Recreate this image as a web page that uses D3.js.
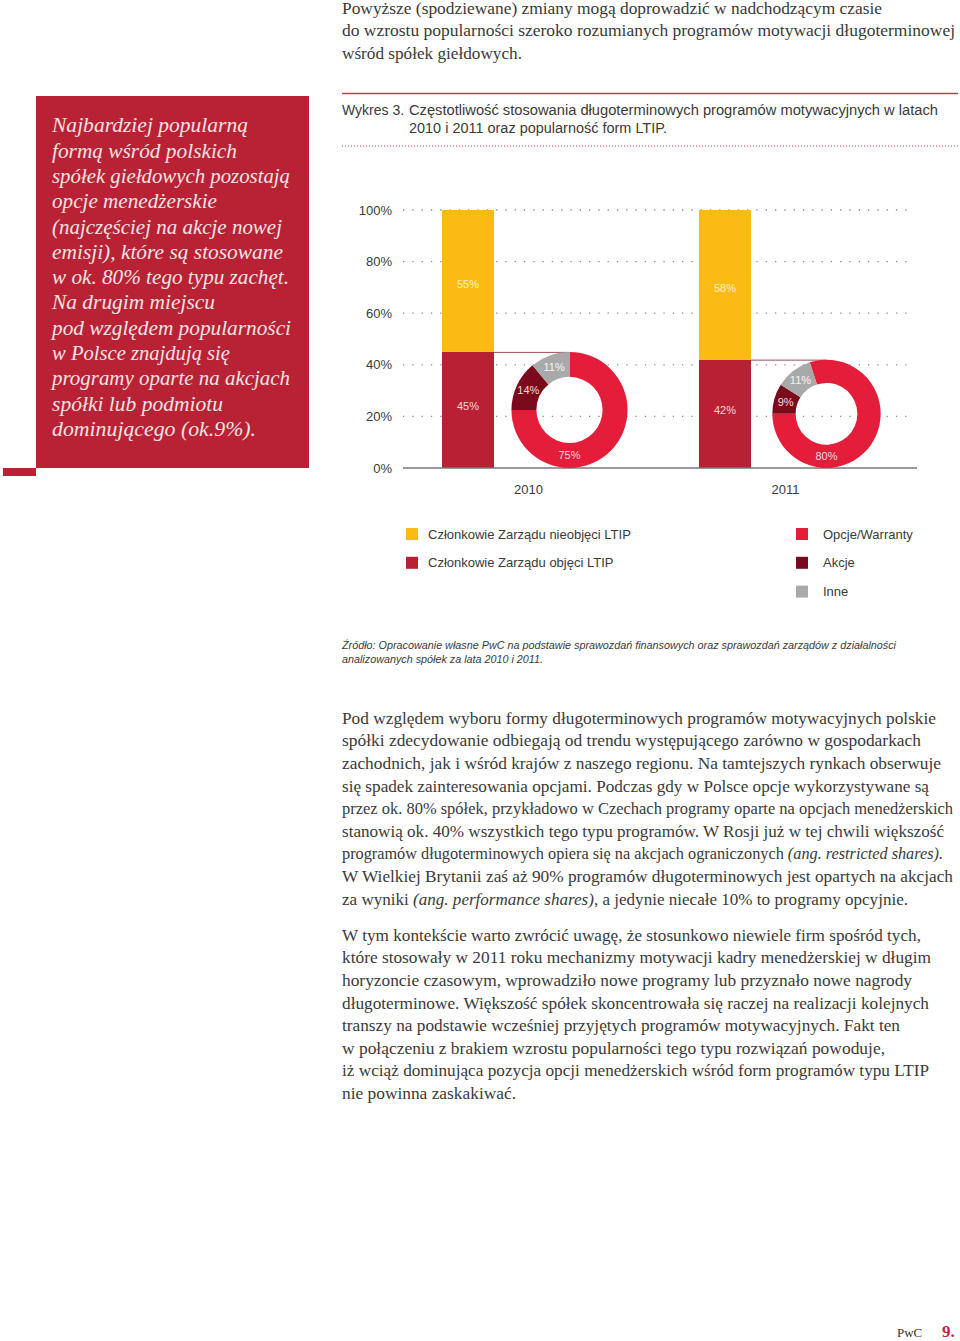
<!DOCTYPE html>
<html><head><meta charset="utf-8">
<script src="https://cdn.jsdelivr.net/npm/d3@7"></script>
<style>body{margin:0;background:#fff}svg{display:block}</style></head>
<body><script>
// ---------- DATA ----------
const years = ["2010", "2011"];
const ltipCovered = [45, 42];      // Członkowie Zarządu objęci LTIP
const ltipNotCovered = [55, 58];   // Członkowie Zarządu nieobjęci LTIP
const formNames = ["Opcje/Warranty", "Akcje", "Inne"];
const forms2010 = [75, 14, 11];
const forms2011 = [80, 9, 11];
const yTicks = [0, 20, 40, 60, 80, 100];
const barLegend = ["Członkowie Zarządu nieobjęci LTIP", "Członkowie Zarządu objęci LTIP"];
const chartTitle = ["Wykres 3. Częstotliwość stosowania długoterminowych programów motywacyjnych w latach",
  "2010 i 2011 oraz popularność form LTIP."];
const sourceLines = ["Źródło: Opracowanie własne PwC na podstawie sprawozdań finansowych oraz sprawozdań zarządów z działalności",
  "analizowanych spółek za lata 2010 i 2011."];
const introLines = ["Powyższe (spodziewane) zmiany mogą doprowadzić w nadchodzącym czasie",
  "do wzrostu popularności szeroko rozumianych programów motywacji długoterminowej",
  "wśród spółek giełdowych."];
const boxLines = ["Najbardziej popularną", "formą wśród polskich", "spółek giełdowych pozostają",
  "opcje menedżerskie", "(najczęściej na akcje nowej", "emisji), które są stosowane",
  "w ok. 80% tego typu zachęt.", "Na drugim miejscu", "pod względem popularności",
  "w Polsce znajdują się", "programy oparte na akcjach", "spółki lub podmiotu", "dominującego (ok.9%)."];
const para1 = [
  [["Pod względem wyboru formy długoterminowych programów motywacyjnych polskie"]],
  [["spółki zdecydowanie odbiegają od trendu występującego zarówno w gospodarkach"]],
  [["zachodnich, jak i wśród krajów z naszego regionu. Na tamtejszych rynkach obserwuje"]],
  [["się spadek zainteresowania opcjami. Podczas gdy w Polsce opcje wykorzystywane są"]],
  [["przez ok. 80% spółek, przykładowo w Czechach programy oparte na opcjach menedżerskich"]],
  [["stanowią ok. 40% wszystkich tego typu programów. W Rosji już w tej chwili większość"]],
  [["programów długoterminowych opiera się na akcjach ograniczonych "], ["(ang. restricted shares).", "i"]],
  [["W Wielkiej Brytanii zaś aż 90% programów długoterminowych jest opartych na akcjach"]],
  [["za wyniki "], ["(ang. performance shares)", "i"], [", a jedynie niecałe 10% to programy opcyjnie."]]
];
const para2 = [
  "W tym kontekście warto zwrócić uwagę, że stosunkowo niewiele firm spośród tych,",
  "które stosowały w 2011 roku mechanizmy motywacji kadry menedżerskiej w długim",
  "horyzoncie czasowym, wprowadziło nowe programy lub przyznało nowe nagrody",
  "długoterminowe. Większość spółek skoncentrowała się raczej na realizacji kolejnych",
  "transzy na podstawie wcześniej przyjętych programów motywacyjnych. Fakt ten",
  "w połączeniu z brakiem wzrostu popularności tego typu rozwiązań powoduje,",
  "iż wciąż dominująca pozycja opcji menedżerskich wśród form programów typu LTIP",
  "nie powinna zaskakiwać."
];

// ---------- LAYOUT / STYLE ----------
const W = 960, H = 1341;
const C = {yellow: "#FCBB13", ltip: "#B92034", opcje: "#E41D3A", akcje: "#7B0A1D", inne: "#A9A9A9",
  box: "#B92234", text: "#3a3a3a", boxText: "#F5E3E5"};
const formColors = [C.opcje, C.akcje, C.inne];
const serif = "'Liberation Serif', 'DejaVu Serif', serif";
const sans = "'Liberation Sans', Arial, sans-serif";

const svg = d3.select("body").append("svg").attr("width", W).attr("height", H)
  .attr("viewBox", `0 0 ${W} ${H}`);
svg.append("rect").attr("width", W).attr("height", H).attr("fill", "#fff");

function lines(g, arr, x, y0, step, size, family, fill, widths, style) {
  arr.forEach((ln, i) => {
    const t = g.append("text").attr("x", x).attr("y", y0 + i * step).attr("dy", "0.35em")
      .attr("font-family", family).attr("font-size", size).attr("fill", fill)
      .attr("font-style", style || "normal");
    if (Array.isArray(ln)) {
      ln.forEach(seg => t.append("tspan").text(seg[0]).attr("font-style", seg[1] === "i" ? "italic" : null));
    } else t.text(ln);
    if (widths && widths[i]) t.attr("textLength", widths[i] - x).attr("lengthAdjust", "spacingAndGlyphs");
  });
}

// intro text
lines(svg, introLines, 342, 8, 22.6, 16.5, serif, C.text, [882, 955, 522]);

// red box
svg.append("rect").attr("x", 36).attr("y", 96).attr("width", 273).attr("height", 372).attr("fill", C.box);
svg.append("rect").attr("x", 3).attr("y", 468).attr("width", 33).attr("height", 8).attr("fill", C.box);
lines(svg, boxLines, 52, 125, 25.3, 21, serif, C.boxText,
  [248, 237, 290, 217, 282, 283, 289, 215, 291, 230, 290, 223, 256], "italic");

// chart title
svg.append("line").attr("x1", 342).attr("x2", 958).attr("y1", 93.5).attr("y2", 93.5)
  .attr("stroke", "#C4404F").attr("stroke-width", 1.5);
svg.append("text").attr("x", 342).attr("y", 110).attr("dy", "0.35em").attr("font-family", sans)
  .attr("font-size", 14).attr("fill", C.text).text("Wykres 3. ");
lines(svg, [chartTitle[0].replace("Wykres 3. ", "")], 409, 110, 18, 14, sans, C.text, [938]);
lines(svg, [chartTitle[1]], 409, 128, 18, 14, sans, C.text, [667]);
svg.append("line").attr("x1", 342).attr("x2", 958).attr("y1", 146).attr("y2", 146)
  .attr("stroke", "#C4404F").attr("stroke-width", 1.2).attr("stroke-dasharray", "1 2");

// ---------- CHART ----------
const y = d3.scaleLinear().domain([0, 100]).range([468, 210]);
const x = d3.scaleBand().domain(years).range([400, 914]);
const barW = 52, barOff = -86.5, donutOff = 41;
const chart = svg.append("g");

// gridlines
chart.selectAll(".grid").data(yTicks.filter(d => d > 0)).join("line")
  .attr("x1", 403).attr("x2", 912).attr("y1", d => y(d)).attr("y2", d => y(d))
  .attr("stroke", "#8a8a8a").attr("stroke-width", 1.3).attr("stroke-dasharray", "1.3 8")
  .attr("stroke-linecap", "butt");

// y axis labels
const yAxis = d3.axisLeft(y).tickValues(yTicks).tickFormat(d => d + "%").tickSize(0).tickPadding(11);
const ag = chart.append("g").attr("transform", "translate(403,0)").call(yAxis);
ag.select(".domain").remove();
ag.selectAll("text").attr("font-family", sans).attr("font-size", 13).attr("fill", C.text);

// bars
const barData = years.map((yr, i) => ({yr, cov: ltipCovered[i], not: ltipNotCovered[i]}));
chart.selectAll(".barCov").data(barData).join("rect")
  .attr("x", d => x(d.yr) + x.bandwidth() / 2 + barOff).attr("width", barW)
  .attr("y", d => y(d.cov)).attr("height", d => y(0) - y(d.cov)).attr("fill", C.ltip);
chart.selectAll(".barNot").data(barData).join("rect")
  .attr("x", d => x(d.yr) + x.bandwidth() / 2 + barOff).attr("width", barW)
  .attr("y", d => y(d.cov + d.not)).attr("height", d => y(d.cov) - y(d.cov + d.not)).attr("fill", C.yellow);
// bar labels
chart.selectAll(".lblCov").data(barData).join("text")
  .attr("x", d => x(d.yr) + x.bandwidth() / 2 + barOff + barW / 2)
  .attr("y", d => (y(0) + y(d.cov)) / 2 - 4).attr("dy", "0.35em").attr("text-anchor", "middle")
  .attr("font-family", sans).attr("font-size", 11).attr("fill", "#F3D6DA").text(d => d.cov + "%");
chart.selectAll(".lblNot").data(barData).join("text")
  .attr("x", d => x(d.yr) + x.bandwidth() / 2 + barOff + barW / 2)
  .attr("y", d => (y(d.cov) + y(d.cov + d.not)) / 2 + 3).attr("dy", "0.35em").attr("text-anchor", "middle")
  .attr("font-family", sans).attr("font-size", 11).attr("fill", "#FDF0C8").text(d => d.not + "%");

// baseline
chart.append("line").attr("x1", 403).attr("x2", 917).attr("y1", y(0)).attr("y2", y(0))
  .attr("stroke", "#777").attr("stroke-width", 1.6);

// donuts
const forms = [forms2010, forms2011];
years.forEach((yr, i) => {
  const R = (y(0) - y(ltipCovered[i])) / 2;
  const r = R * 0.57;
  const cx = x(yr) + x.bandwidth() / 2 + donutOff;
  const cy = y(0) - R;
  // connector line
  chart.append("line").attr("x1", x(yr) + x.bandwidth() / 2 + barOff + barW).attr("x2", cx)
    .attr("y1", y(ltipCovered[i]) + 0.5).attr("y2", y(ltipCovered[i]) + 0.5)
    .attr("stroke", "#9A4E5A").attr("stroke-width", 1);
  const start = 1.5 * Math.PI - forms[i][0] / 100 * 2 * Math.PI;
  const pie = d3.pie().sort(null).value(d => d).startAngle(start).endAngle(start + 2 * Math.PI);
  const arcs = pie(forms[i]);
  const arc = d3.arc().innerRadius(r).outerRadius(R);
  const g = chart.append("g").attr("transform", `translate(${cx},${cy})`);
  g.selectAll("path").data(arcs).join("path").attr("d", arc).attr("fill", (d, j) => formColors[j]);
  const mid = (R + r) / 2;
  g.selectAll("text").data(arcs).join("text")
    .attr("x", (d, j) => j === 0 ? 0 : arc.centroid(d)[0])
    .attr("y", (d, j) => j === 0 ? mid : arc.centroid(d)[1])
    .attr("dy", "0.35em").attr("text-anchor", "middle")
    .attr("font-family", sans).attr("font-size", 11)
    .attr("fill", (d, j) => j === 2 ? "#F4F4F4" : "#F6DADE").text(d => d.data + "%");
});

// year labels
chart.selectAll(".yr").data(years).join("text")
  .attr("x", d => x(d) + x.bandwidth() / 2).attr("y", 489).attr("dy", "0.35em")
  .attr("text-anchor", "middle").attr("font-family", sans).attr("font-size", 13)
  .attr("fill", C.text).text(d => d);

// legend
const leg = svg.append("g");
const legL = [C.yellow, C.ltip];
barLegend.forEach((t, i) => {
  leg.append("rect").attr("x", 406).attr("y", 528 + i * 28.8).attr("width", 12).attr("height", 12).attr("fill", legL[i]);
  leg.append("text").attr("x", 428).attr("y", 534 + i * 28.8).attr("dy", "0.35em")
    .attr("font-family", sans).attr("font-size", 13).attr("fill", C.text).text(t);
});
formNames.forEach((t, i) => {
  leg.append("rect").attr("x", 796).attr("y", 528 + i * 28.8).attr("width", 12).attr("height", 12).attr("fill", formColors[i]);
  leg.append("text").attr("x", 823).attr("y", 534 + i * 28.8).attr("dy", "0.35em")
    .attr("font-family", sans).attr("font-size", 13).attr("fill", C.text).text(t);
});

// source
lines(svg, sourceLines, 342, 645, 14.5, 11, sans, C.text, [896, 543], "italic");

// body paragraphs
lines(svg, para1, 342, 718, 22.6, 16.5, serif, C.text, [936, 921, 941, 929, 953, 944, 943, 953, 908]);
lines(svg, para2, 342, 935, 22.6, 16.5, serif, C.text, [921, 931, 912, 929, 900, 885, 929, 516]);

// footer
svg.append("text").attr("x", 897).attr("y", 1332).attr("dy", "0.35em").attr("font-family", serif)
  .attr("font-size", 13).attr("fill", "#333").text("PwC");
svg.append("text").attr("x", 942).attr("y", 1331).attr("dy", "0.35em").attr("font-family", serif)
  .attr("font-size", 17).attr("font-weight", "bold").attr("fill", "#C0283C").text("9.");
</script></body></html>
